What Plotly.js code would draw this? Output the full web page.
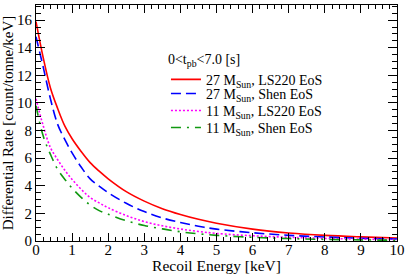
<!DOCTYPE html>
<html>
<head>
<meta charset="utf-8">
<script src="https://cdn.plot.ly/plotly-3.0.1.min.js"></script>
<style>html,body{margin:0;padding:0;background:#fff;}#chart{width:405px;height:274px;}</style>
</head>
<body>
<div id="chart"></div>
<script>
var energy = [0, 0.2, 0.4, 0.6, 0.8, 1.0, 1.25, 1.5, 1.75, 2.0, 2.5, 3.0, 3.5, 4.0, 4.5, 5, 6, 7, 8, 9, 10];
var rate27LS220 = [15.9, 13.28, 11.09, 9.6, 8.32, 7.41, 6.49, 5.68, 5.06, 4.51, 3.58, 2.89, 2.34, 1.92, 1.57, 1.29, 0.86, 0.58, 0.405, 0.3, 0.222];
var rate27Shen = [14.8, 12.6, 10.3, 8.45, 7.34, 6.38, 5.36, 4.5, 3.97, 3.5, 2.73, 2.13, 1.67, 1.34, 1.07, 0.86, 0.6, 0.41, 0.29, 0.2, 0.14];
var rate11LS220 = [10.3, 8.35, 6.77, 5.89, 5.12, 4.46, 3.75, 3.15, 2.76, 2.41, 1.84, 1.41, 1.1, 0.87, 0.69, 0.55, 0.38, 0.27, 0.19, 0.135, 0.097];
var rate11Shen = [9.8, 7.6, 6.28, 5.19, 4.46, 3.83, 3.16, 2.61, 2.2, 1.94, 1.47, 1.12, 0.88, 0.67, 0.52, 0.41, 0.27, 0.177, 0.119, 0.08, 0.054];
var seriesNames = ['27 M<sub>Sun</sub>, LS220 EoS', '27 M<sub>Sun</sub>, Shen EoS', '11 M<sub>Sun</sub>, LS220 EoS', '11 M<sub>Sun</sub>, Shen EoS'];
var legendTitle = '0&lt;t<sub>pb</sub>&lt;7.0 [s]';
var xTicks = [0,1,2,3,4,5,6,7,8,9,10];
var yTicks = [0,2,4,6,8,10,12,14,16];

var font = '"Liberation Serif", "Times New Roman", "DejaVu Serif", serif';
var traces = [
  {x: energy, y: rate27LS220, name: seriesNames[0], legend: 'legend', mode: 'lines', line: {color: '#ff0000', width: 1.6, shape: 'spline'}},
  {x: energy, y: rate27Shen, name: seriesNames[1], legend: 'legend2', mode: 'lines', line: {color: '#0000ff', width: 1.6, dash: '10px,5px', shape: 'spline'}},
  {x: energy, y: rate11LS220, name: seriesNames[2], legend: 'legend3', mode: 'lines', line: {color: '#ff00ff', width: 1.6, dash: '2px,2px', shape: 'spline'}},
  {x: energy, y: rate11Shen, name: seriesNames[3], legend: 'legend4', mode: 'lines', line: {color: '#119911', width: 1.6, dash: '10px,6px,2px,6px', shape: 'spline'}}
];
var axisCommon = {
  showline: true, linecolor: '#000', linewidth: 1, mirror: 'allticks',
  ticks: 'inside', tickcolor: '#000', tickwidth: 1,
  showgrid: false, zeroline: false,
  tickfont: {family: font, size: 15, color: '#000'}
};
function legendAt(y, anchor, withTitle) {
  var lg = {
    x: 0.36, y: y, xanchor: 'left', yanchor: anchor,
    bgcolor: 'rgba(255,255,255,0)', borderwidth: 0,
    font: {family: font, size: 14, color: '#000'}
  };
  if (withTitle) lg.title = {text: legendTitle, font: {family: font, size: 14, color: '#000'}};
  return lg;
}
var layout = {
  width: 405, height: 274,
  margin: {l: 36, r: 8, t: 5, b: 33},
  paper_bgcolor: '#fff', plot_bgcolor: '#fff',
  showlegend: true,
  font: {family: font, color: '#000'},
  xaxis: Object.assign({}, axisCommon, {
    range: [0, 10], tickvals: xTicks, ticktext: xTicks.map(String), ticklen: 8,
    ticklabelstandoff: -5,
    minor: {dtick: 0.2, ticks: 'inside', ticklen: 4, tickcolor: '#000', showgrid: false},
    title: {text: 'Recoil Energy [keV]', font: {family: font, size: 15.5, color: '#000'}, standoff: 7}
  }),
  yaxis: Object.assign({}, axisCommon, {
    range: [0, 17.1], tickvals: yTicks, ticktext: yTicks.map(String), ticklen: 9,
    minor: {dtick: 0.5, ticks: 'inside', ticklen: 5, tickcolor: '#000', showgrid: false},
    title: {text: 'Differential Rate [count/tonne/keV]', font: {family: font, size: 15, color: '#000'}, standoff: 3}
  }),
  legend: legendAt(0.828, 'top', true),
  legend2: legendAt(0.623, 'middle', false),
  legend3: legendAt(0.551, 'middle', false),
  legend4: legendAt(0.479, 'middle', false)
};
Plotly.newPlot('chart', traces, layout, {displayModeBar: false, staticPlot: true});
</script>
</body>
</html>
